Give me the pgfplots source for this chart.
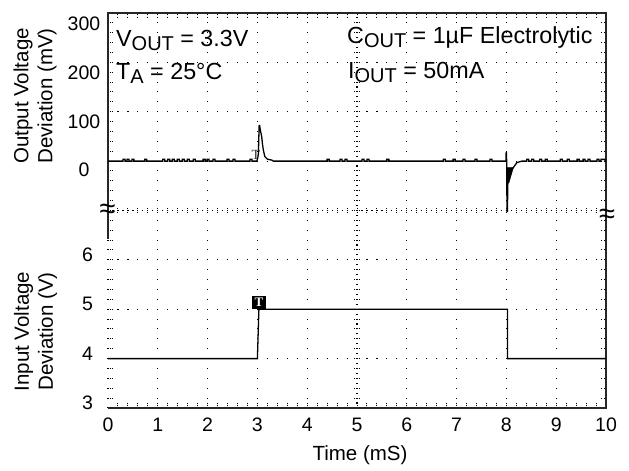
\documentclass[border=0pt]{standalone}
\usepackage{fontspec}
\setmainfont{Liberation Sans}
\newfontfamily\serifT{Liberation Serif}
\usepackage{pgfplots}
\pgfplotsset{compat=1.18}
\newcommand\tickfont{\fontsize{19.5bp}{22bp}\selectfont}
\newcommand\labfont{\fontsize{20.5bp}{24bp}\selectfont}
\newcommand\annfont{\fontsize{23.3bp}{26bp}\selectfont}
\newcommand\sub[1]{\raisebox{-3.8bp}{\fontsize{20bp}{20bp}\selectfont #1}}
\begin{document}
\begin{tikzpicture}[x=1bp,y=1bp]
\path[use as bounding box] (0,0) rectangle (629,471);
% dotted grid
\tikzset{hdot/.style={line width=1.1bp, dash pattern=on 1.1bp off 8.86bp},
         vdot/.style={line width=1.1bp, dash pattern=on 1.1bp off 8.775bp},
         hcen/.style={line width=1.1bp, dash pattern=on 1.1bp off 3.88bp},
         vcen/.style={line width=1.1bp, dash pattern=on 1.1bp off 3.8375bp},
         btick/.style={line width=1bp, dash pattern=on 1bp off 1.2bp}}
\foreach \j in {1,2,3,5,6,7} {\draw[hdot] (107.5,{63+\j*49.375}) -- (606,{63+\j*49.375});}
\foreach \i in {0,1,2,3,4,6,7,8,9} {\draw[vdot] ({108+\i*49.8},62.5) -- ({108+\i*49.8},458);}
\draw[hcen] (107.5,260.5) -- (606,260.5);
\draw[vcen] (357,62.5) -- (357,458);
\foreach \k in {1,...,49} {\draw[btick] ({108+\k*9.96},258) -- ({108+\k*9.96},263.2);}
\foreach \k in {1,...,39} {\draw[btick] (354.3,{63+\k*9.875}) -- (360,{63+\k*9.875});}
% inner border ticks
\foreach \k in {1,...,39} {\draw[btick] (109.5,{63+\k*9.875}) -- (113,{63+\k*9.875});
                           \draw[btick] (604.5,{63+\k*9.875}) -- (601,{63+\k*9.875});}
\foreach \k in {1,...,49} {\draw[btick] ({108+\k*9.96},64.5) -- ({108+\k*9.96},68);
                           \draw[btick] ({108+\k*9.96},456.5) -- ({108+\k*9.96},453);}
% frame
\draw[line width=1.2bp, black!85] (108,232) -- (108,458) -- (606,458) -- (606,63) -- (108,63);
\begin{axis}[at={(108bp,63bp)}, anchor=south west, scale only axis,
  width=498bp, height=395bp, xmin=0, xmax=10, ymin=0, ymax=8, clip=false,
  axis line style={draw=none}, major tick length=0pt,
  xtick={0,1,...,10}, xticklabels={0,1,2,3,4,5,6,7,8,9,10},
  xticklabel style={anchor=base, yshift=-24bp, inner sep=0pt, font=\tickfont},
  ytick={4.82,5.80,6.79,7.78}, yticklabels={0,100,200,300},
  yticklabel style={anchor=center, xshift=-24bp, inner sep=0pt, font=\tickfont},
  extra y ticks={0.11,1.10,2.11,3.10}, extra y tick labels={3,4,5,6},
  extra y tick style={yticklabel style={xshift=3.5bp}},
]
% output voltage deviation trace
\addplot[black, line width=1.3bp] coordinates {
(0,5)
(0.30,5)(0.30,5.035)(0.34,5.035)(0.34,5)
(0.38,5)(0.38,5.035)(0.42,5.035)(0.42,5)
(0.48,5)(0.48,5.035)(0.52,5.035)(0.52,5)
(0.74,5)(0.74,5.035)(0.78,5.035)(0.78,5)
(1.10,5)(1.10,5.035)(1.14,5.035)(1.14,5)
(1.20,5)(1.20,5.035)(1.24,5.035)(1.24,5)
(1.29,5)(1.29,5.035)(1.33,5.035)(1.33,5)
(1.39,5)(1.39,5.035)(1.43,5.035)(1.43,5)
(1.49,5)(1.49,5.035)(1.53,5.035)(1.53,5)
(1.59,5)(1.59,5.035)(1.63,5.035)(1.63,5)
(1.71,5)(1.71,5.035)(1.75,5.035)(1.75,5)
(1.91,5)(1.91,5.035)(1.95,5.035)(1.95,5)
(1.99,5)(1.99,5.035)(2.03,5.035)(2.03,5)
(2.11,5)(2.11,5.035)(2.15,5.035)(2.15,5)
(2.39,5)(2.39,5.035)(2.43,5.035)(2.43,5)
(2.51,5)(2.51,5.035)(2.55,5.035)(2.55,5)
(2.85,5)(2.85,5.035)(2.89,5.035)(2.89,5)
(2.99,5)(3.01,5.08)(3.02,5.16)(3.035,5.72)(3.045,5.72)(3.06,5.62)(3.086,5.50)(3.10,5.36)(3.12,5.22)(3.15,5.09)(3.20,5.04)(3.29,5.02)(3.32,5)
(4.40,5)(4.40,5.035)(4.44,5.035)(4.44,5)
(4.66,5)(4.66,5.035)(4.70,5.035)(4.70,5)
(4.76,5)(4.76,5.035)(4.80,5.035)(4.80,5)
(5.10,5)(5.10,5.035)(5.14,5.035)(5.14,5)
(5.20,5)(5.20,5.035)(5.24,5.035)(5.24,5)
(5.60,5)(5.60,5.035)(5.64,5.035)(5.64,5)
(6.73,5)(6.73,5.035)(6.77,5.035)(6.77,5)
(6.93,5)(6.93,5.035)(6.97,5.035)(6.97,5)
(7.13,5)(7.13,5.035)(7.17,5.035)(7.17,5)
(7.37,5)(7.37,5.035)(7.41,5.035)(7.41,5)
(7.67,5)(7.67,5.035)(7.71,5.035)(7.71,5)
(7.99,5)(7.995,5.17)(8.0,5.17)(8.005,5.0)(8.012,3.98)(8.02,3.98)(8.03,4.6)(8.06,4.75)(8.10,4.83)(8.14,4.87)(8.21,4.97)(8.31,5.0)
(8.41,5)(8.41,5.035)(8.45,5.035)(8.45,5)
(8.51,5)(8.51,5.035)(8.55,5.035)(8.55,5)
(8.67,5)(8.67,5.035)(8.71,5.035)(8.71,5)
(8.78,5)(8.78,5.035)(8.82,5.035)(8.82,5)
(9.08,5)(9.08,5.035)(9.12,5.035)(9.12,5)
(9.22,5)(9.22,5.035)(9.26,5.035)(9.26,5)
(9.42,5)(9.42,5.035)(9.46,5.035)(9.46,5)
(9.54,5)(9.54,5.035)(9.58,5.035)(9.58,5)
(9.64,5)(9.64,5.035)(9.68,5.035)(9.68,5)
(9.82,5)(9.82,5.035)(9.86,5.035)(9.86,5)
(9.90,5)(9.90,5.035)(9.98,5.035)(9.98,5)(10,5)
};
% dense ringing after the 8 ms step
\addplot[fill=black, draw=black, line width=0.5bp] coordinates {
(8.012,4.87)(8.14,4.87)(8.05,4.56)(8.02,4.56)} -- cycle;
% input voltage trace
\addplot[black, line width=1.3bp] coordinates {
(0,1.0)(3.0,1.0)(3.03,2.0)(8.02,2.0)(8.02,1.0)(10,1.0)};
% trigger markers
\addplot[draw=none, nodes near coords={\serifT\bfseries T},
  every node near coord/.style={fill=black, text=white, inner sep=0pt,
  minimum width=14bp, minimum height=13bp, anchor=south,
  font=\fontsize{13bp}{13bp}\selectfont}] coordinates {(3.03,2.0)};
\addplot[draw=none, nodes near coords={\serifT T},
  every node near coord/.style={inner sep=0pt, anchor=south, text=black!80,
  font=\fontsize{14bp}{14bp}\selectfont}] coordinates {(2.97,5.02)};
\end{axis}
% break marks
\node[font=\fontsize{29bp}{29bp}\selectfont, inner sep=0pt] at (107.5,259.5) {≈};
\node[font=\fontsize{29bp}{29bp}\selectfont, inner sep=0pt] at (607,255) {≈};
% annotations
\node[anchor=base west, inner sep=0pt, font=\annfont] at (116,424.3) {V\sub{OUT} = 3.3V};
\node[anchor=base west, inner sep=0pt, font=\annfont] at (116,391) {T\sub{A} = 25°C};
\node[anchor=base west, inner sep=0pt, font=\annfont] at (347,427.7) {C\sub{OUT} = 1µF Electrolytic};
\node[anchor=base west, inner sep=0pt, font=\annfont] at (348,392.7) {I\sub{OUT} = 50mA};
% axis titles
\node[rotate=90, align=center, font=\labfont] at (35,375) {Output Voltage\\Deviation (mV)};
\node[rotate=90, align=center, font=\labfont] at (35.5,139.5) {Input Voltage\\Deviation (V)};
\node[anchor=base, font=\labfont, inner sep=0pt] at (360,10) {Time (mS)};
\end{tikzpicture}
\end{document}
